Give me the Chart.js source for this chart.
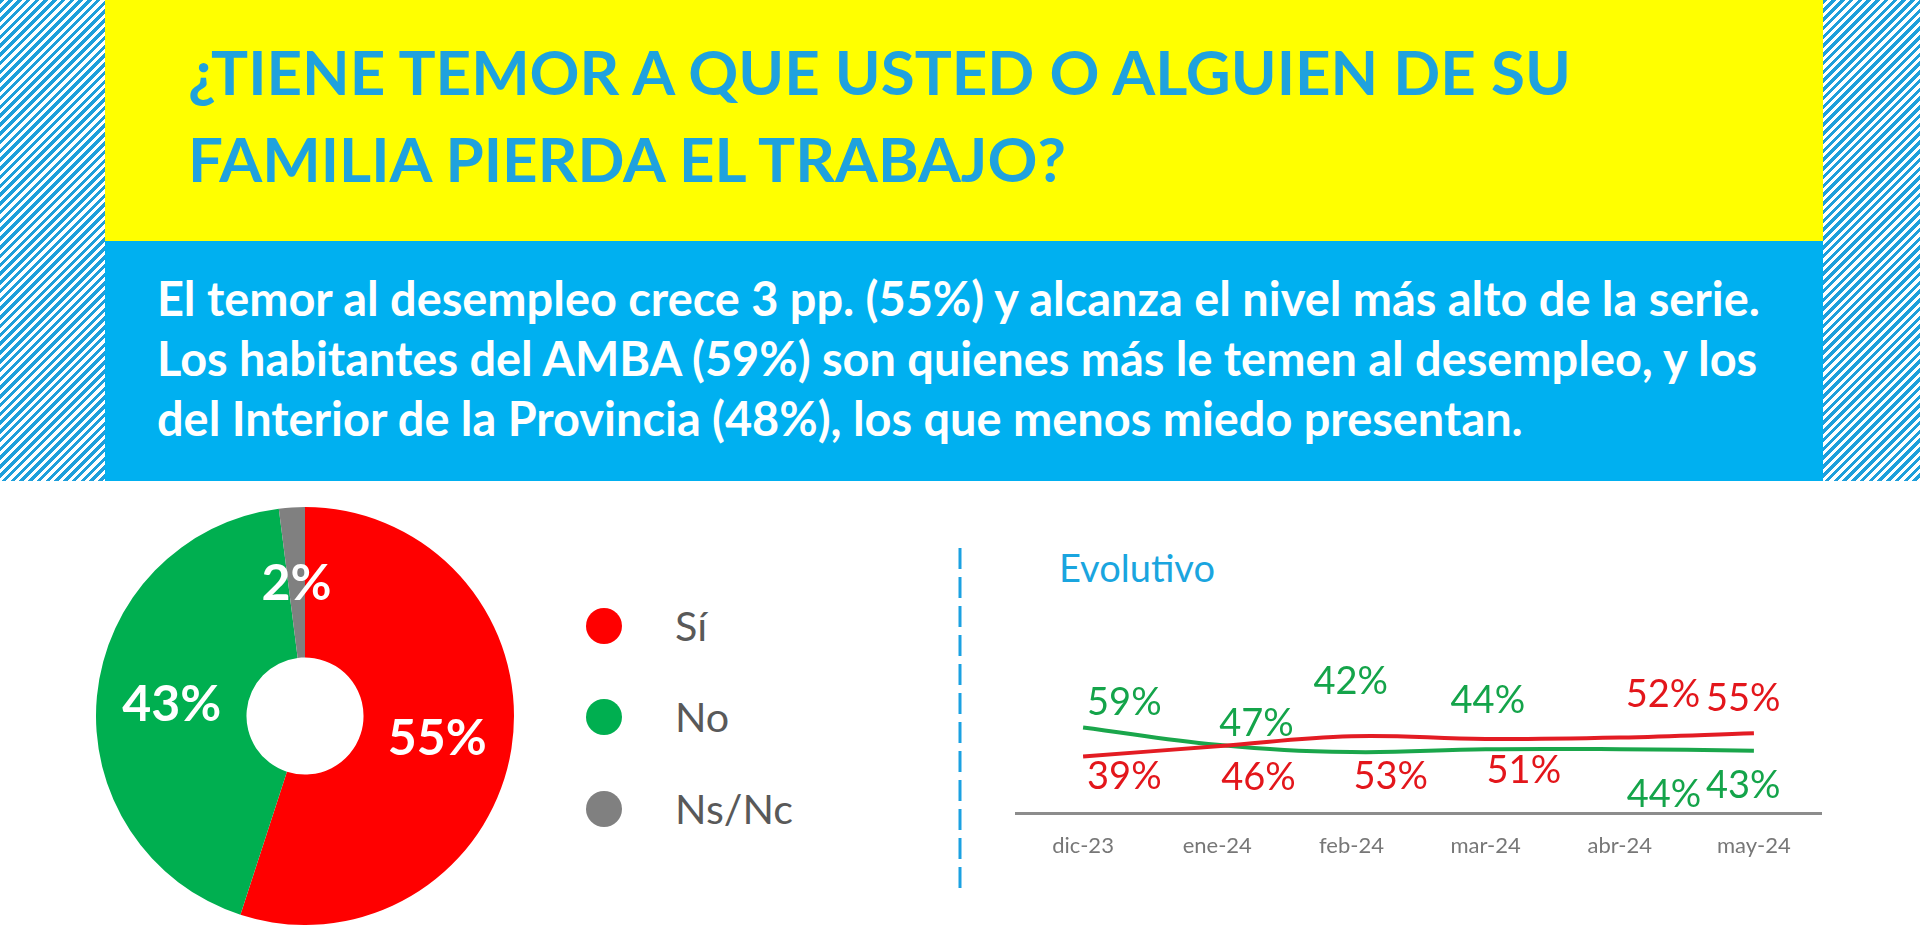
<!DOCTYPE html>
<html><head><meta charset="utf-8">
<script src="https://cdn.jsdelivr.net/npm/chart.js@4.4.1/dist/chart.umd.min.js"></script>
<style>
html,body{margin:0;padding:0;background:#fff;width:1920px;height:939px;overflow:hidden;}
#page{position:relative;width:1920px;height:939px;background:#fff;}
.stripes{position:absolute;top:0;height:481px;background:repeating-linear-gradient(135deg,#1E9FDB 0 3.2px,#ffffff 3.2px 6.2px);}
.abs{position:absolute;}
svg text{font-family:Lato,"Open Sans",sans-serif;}
</style></head>
<body><div id="page">
<div class="stripes" style="left:0;width:105px"></div>
<div class="stripes" style="left:1823px;width:97px"></div>
<div class="abs" style="left:105px;top:0;width:1718px;height:241px;background:#FFFF00"></div>
<div class="abs" style="left:105px;top:241px;width:1718px;height:240px;background:#00B0F0"></div>
<svg id="txt" class="abs" width="1920" height="939" style="left:0;top:0">
  <g id="title" fill="#1FA2DE" font-weight="700"></g>
  <g id="body" fill="#ffffff" font-weight="700"></g>
  <g id="legend"></g>
  <text id="evo" x="1059" y="582" fill="#1AA5DF" font-weight="400">Evolutivo</text>
  <line x1="960" y1="548" x2="960" y2="892" stroke="#1BA1E2" stroke-width="3" stroke-dasharray="21 8"/>
</svg>
<canvas id="donut" class="abs" style="left:96px;top:507px" width="418" height="418"></canvas>
<canvas id="line" class="abs" style="left:1000px;top:600px" width="860" height="280"></canvas>
</div>
<script>
// ---------- data ----------
const titleLines = ['¿TIENE TEMOR A QUE USTED O ALGUIEN DE SU', 'FAMILIA PIERDA EL TRABAJO?'];
const bodyLines = [
  'El temor al desempleo crece 3 pp. (55%) y alcanza el nivel más alto de la serie.',
  'Los habitantes del AMBA (59%) son quienes más le temen al desempleo, y los',
  'del Interior de la Provincia (48%), los que menos miedo presentan.'
];
const pieLabels = ['Sí', 'No', 'Ns/Nc'];
const pieValues = [55, 43, 2];
const months = ['dic-23', 'ene-24', 'feb-24', 'mar-24', 'abr-24', 'may-24'];
const siValues = [39, 46, 53, 51, 52, 55];
const noValues = [59, 47, 42, 44, 44, 43];

// ---------- styles ----------
const RED = '#FF0000', GREEN = '#00AF50', GREY = '#808080';
const pieColors = [RED, GREEN, GREY];
const lineRed = '#E31C23', lineGreen = '#1AA64B';
const siLabelOffsets = [[4,19],[4,30],[2,39],[1,30],[6,-44],[-48,-36]];
const noLabelOffsets = [[4,-26],[2,-22],[-38,-72],[-35,-50],[7,44],[-48,34]];
const FONT = 'Lato, "Open Sans", sans-serif';

// ---------- text ----------
const NS = 'http://www.w3.org/2000/svg';
function mk(parent, str, x, y) {
  const t = document.createElementNS(NS, 'text');
  t.setAttribute('x', x); t.setAttribute('y', y);
  t.textContent = str; parent.appendChild(t); return t;
}
function fit(els, target) {
  els[0].setAttribute('font-size', 100);
  const w = els[0].getComputedTextLength();
  const s = 100 * target / w;
  els.forEach(e => e.setAttribute('font-size', s.toFixed(2)));
  return s;
}
const tg = document.getElementById('title');
const tEls = titleLines.map((l, i) => mk(tg, l, 188, [95, 182][i]));
fit(tEls, 1383);
const bg = document.getElementById('body');
const bEls = bodyLines.map((l, i) => mk(bg, l, 157, [316, 376, 436][i]));
fit(bEls, 1603);
fit([document.getElementById('evo')], 156);

const lg = document.getElementById('legend');
const legCY = [626, 717, 809];
const legEls = pieLabels.map((lab, i) => {
  const c = document.createElementNS(NS, 'circle');
  c.setAttribute('cx', 604); c.setAttribute('cy', legCY[i]); c.setAttribute('r', 18);
  c.setAttribute('fill', pieColors[i]); lg.appendChild(c);
  const t = mk(lg, lab, 675, legCY[i]); t.setAttribute('fill', '#595959'); return t;
});
const ls = fit([legEls[2], legEls[0], legEls[1]], 118);
legEls.forEach((t, i) => t.setAttribute('y', (legCY[i] + 0.358 * ls).toFixed(1)));

// ---------- donut ----------
const donutLabels = {
  id: 'donutLabels',
  afterDatasetsDraw(chart) {
    const ctx = chart.ctx, meta = chart.getDatasetMeta(0), size = 50;
    ctx.save();
    ctx.font = '700 ' + size + 'px ' + FONT;
    ctx.fillStyle = '#ffffff'; ctx.textAlign = 'center'; ctx.textBaseline = 'alphabetic';
    meta.data.forEach((arc, i) => {
      const p = arc.tooltipPosition();
      ctx.fillText(chart.data.datasets[0].data[i] + '%', p.x, p.y + 0.358 * size);
    });
    ctx.restore();
  }
};
new Chart(document.getElementById('donut'), {
  type: 'doughnut',
  data: { labels: pieLabels, datasets: [{ data: pieValues, backgroundColor: pieColors, borderWidth: 0 }] },
  options: {
    responsive: false, animation: false, devicePixelRatio: 1, cutout: '28%',
    layout: { padding: 0 },
    plugins: { legend: { display: false }, tooltip: { enabled: false } }
  },
  plugins: [donutLabels]
});

// ---------- line ----------
const lineLabels = {
  id: 'lineLabels',
  afterDatasetsDraw(chart) {
    const ctx = chart.ctx, size = 38;
    ctx.save();
    ctx.font = size + 'px ' + FONT;
    ctx.textAlign = 'left'; ctx.textBaseline = 'alphabetic';
    chart.data.datasets.forEach((ds, di) => {
      const meta = chart.getDatasetMeta(di);
      ctx.fillStyle = ds.labelColor;
      meta.data.forEach((pt, j) => {
        const o = ds.labelOffsets[j];
        ctx.fillText(ds.data[j] + '%', pt.x + o[0], pt.y + o[1] + 0.358 * size);
      });
    });
    ctx.restore();
  }
};
new Chart(document.getElementById('line'), {
  type: 'line',
  data: {
    labels: months,
    datasets: [
      { label: 'Sí', data: siValues, borderColor: lineRed, borderWidth: 4, pointRadius: 0, tension: 0.4,
        labelColor: '#E3161B', labelOffsets: siLabelOffsets },
      { label: 'No', data: noValues, borderColor: lineGreen, borderWidth: 4, pointRadius: 0, tension: 0.4,
        labelColor: '#14A44A', labelOffsets: noLabelOffsets }
    ]
  },
  options: {
    responsive: false, animation: false, devicePixelRatio: 1,
    layout: { padding: { left: 16, right: 39, top: 68, bottom: 0 } },
    plugins: { legend: { display: false }, tooltip: { enabled: false } },
    scales: {
      x: {
        offset: true,
        grid: { display: false, drawTicks: false },
        border: { display: true, color: '#8C8C8C', width: 3 },
        ticks: { color: '#777777', font: { family: FONT, size: 22 }, padding: 20 },
        afterFit(scale) { scale.height = 67; }
      },
      y: { display: false, min: 0, max: 100 }
    }
  },
  plugins: [lineLabels]
});
</script>
</body></html>
